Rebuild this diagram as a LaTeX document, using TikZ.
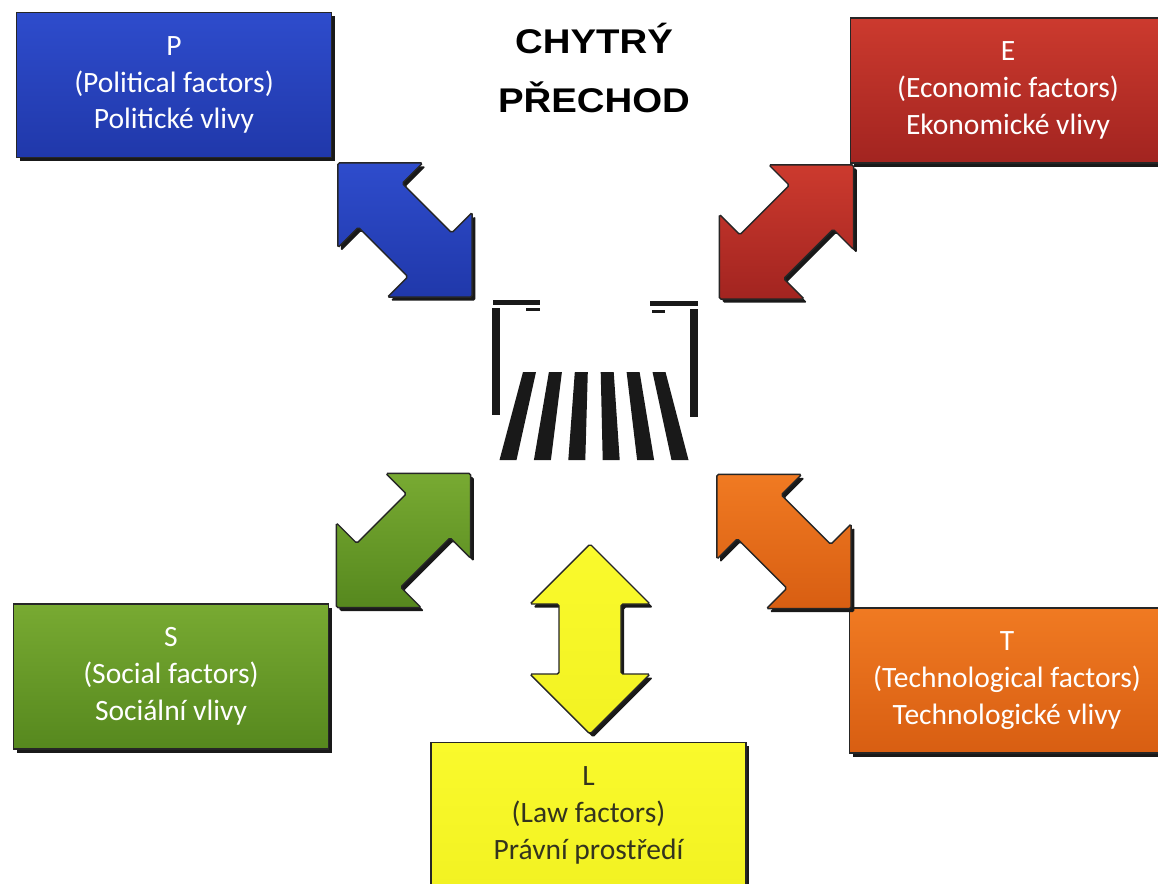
\documentclass[tikz,border=0pt]{standalone}
\usepackage{graphicx}
\usepackage{fontspec}
\setmainfont{Carlito}
\newfontfamily\titlefont{Liberation Sans}
\usetikzlibrary{shadows}

\definecolor{pblue}{HTML}{2E4CCC}
\definecolor{pbluelo}{HTML}{2038AA}
\definecolor{ered}{HTML}{CC3A2E}
\definecolor{eredlo}{HTML}{A22420}
\definecolor{sgreen}{HTML}{78AA32}
\definecolor{sgreenlo}{HTML}{56881E}
\definecolor{torange}{HTML}{F07A22}
\definecolor{torangelo}{HTML}{D85E12}
\definecolor{lyellow}{HTML}{FAFA2C}
\definecolor{lyellowlo}{HTML}{F2F222}
\definecolor{ltext}{HTML}{34341E}

\tikzset{
  factor/.style={draw=black!85, line width=0.8pt, inner sep=0pt, align=center,
    minimum width=6.3cm, minimum height=2.9cm, text=white,
    top color=#1, bottom color=#1lo,
    font=\fontsize{16.8}{21}\selectfont,
    drop shadow={shadow xshift=1.8pt, shadow yshift=-2.2pt, opacity=1, fill=black!90}},
  bigarrow/.style={draw=black!85, line width=0.8pt, rounded corners=1pt,
    drop shadow={shadow xshift=1.8pt, shadow yshift=-2pt, opacity=1, fill=black!90}},
  sign/.style={fill=black!90}
}

\begin{document}
\begin{tikzpicture}[x=0.02cm, y=-0.02cm]
\fill[white] (0,0) rectangle (1158,883);
\useasboundingbox (0,0) rectangle (1158,883);

% title
\node[font=\titlefont\bfseries\fontsize{19.5}{34}\selectfont, align=center] (title) at (594,68)
  {\scalebox{1.12}[1]{CHYTRÝ}\\\scalebox{1.12}[1]{PŘECHOD}};

% factor boxes
\node[factor=pblue] (pbox) at (174,85) {P\\(Political factors)\\Politické vlivy};
\node[factor=ered] (ebox) at (1008,90.5) {E\\(Economic factors)\\Ekonomické vlivy};
\node[factor=sgreen] (sbox) at (171,676.5) {S\\(Social factors)\\Sociální vlivy};
\node[factor=torange] (tbox) at (1007,680.5) {T\\(Technological factors)\\Technologické vlivy};
\node[factor=lyellow, text=ltext] (lbox) at (588.5,815) {L\\(Law factors)\\Právní prostředí};

% double arrows
\foreach \cx/\cy/\ang/\col in {405/230/-45/pblue, 786.5/232/45/ered, 403.5/540.5/45/sgreen,
    784/541.5/-45/torange, 590/639/90/lyellow}
  \draw[bigarrow, top color=\col, bottom color=\col lo, shift={(\cx,\cy)}, rotate=\ang]
    (-95,0) -- (-35,60) -- (-35,31) -- (35,31) -- (35,60) -- (95,0)
    -- (35,-60) -- (35,-31) -- (-35,-31) -- (-35,-60) -- cycle;

% crosswalk sign
\fill[sign] (493,300) rectangle (540,305);
\fill[sign] (526,308) rectangle (540,310.5);
\fill[sign] (492,308) rectangle (500,415);
\fill[sign] (650,301) rectangle (698,306);
\fill[sign] (652,310) rectangle (665,312.5);
\fill[sign] (690,309) rectangle (698,417);

% stripes
\foreach \i in {0,...,5}
  \fill[sign] ({523+25.9*\i},372) -- ({536+25.9*\i},372)
    -- ({516.5+34.4*\i},460) -- ({499.5+34.4*\i},460) -- cycle;
\end{tikzpicture}
\end{document}
